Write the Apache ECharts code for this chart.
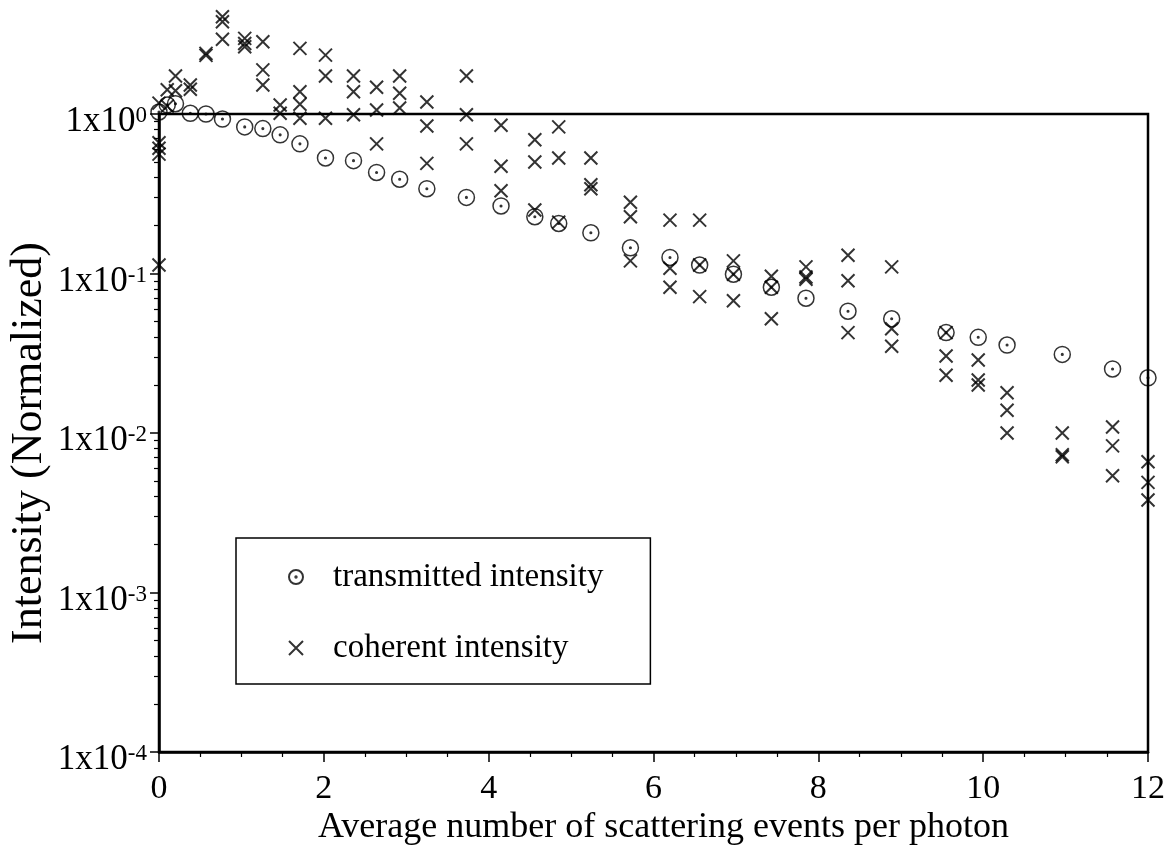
<!DOCTYPE html>
<html><head><meta charset="utf-8">
<script src="https://cdn.jsdelivr.net/npm/echarts@6/dist/echarts.min.js"></script>
<style>html,body{margin:0;padding:0;background:#fff}#c{width:1170px;height:858px}</style>
</head><body><div id="c"></div>
<script>
// ---- data ----
const seriesNames = ['transmitted intensity', 'coherent intensity'];
const xAxisTitle = 'Average number of scattering events per photon';
const yAxisTitle = 'Intensity (Normalized)';

const transX = [0, 0.1, 0.2, 0.38, 0.57, 0.77, 1.04, 1.26, 1.47, 1.71, 2.02, 2.36, 2.64, 2.92, 3.25, 3.73, 4.15, 4.56, 4.85, 5.24, 5.72, 6.2, 6.56, 6.97, 7.43, 7.85, 8.36, 8.89, 9.55, 9.94, 10.29, 10.96, 11.57, 12.0];
const transY = [1.03, 1.14, 1.16, 1.01, 1.0, 0.93, 0.83, 0.81, 0.74, 0.65, 0.53, 0.51, 0.43, 0.39, 0.34, 0.30, 0.265, 0.227, 0.206, 0.18, 0.145, 0.126, 0.113, 0.099, 0.082, 0.07, 0.058, 0.052, 0.0426, 0.0398, 0.0356, 0.0311, 0.0252, 0.0222];

const cohX = [0, 0, 0, 0, 0,
  0.1, 0.1, 0.2, 0.2,
  0.38, 0.38,
  0.57, 0.57,
  0.77, 0.77, 0.77,
  1.04, 1.04, 1.04,
  1.26, 1.26, 1.26,
  1.47, 1.47,
  1.71, 1.71, 1.71, 1.71,
  2.02, 2.02, 2.02,
  2.36, 2.36, 2.36,
  2.64, 2.64, 2.64,
  2.92, 2.92, 2.92,
  3.25, 3.25, 3.25,
  3.73, 3.73, 3.73,
  4.15, 4.15, 4.15,
  4.56, 4.56, 4.56,
  4.85, 4.85, 4.85,
  5.24, 5.24, 5.24,
  5.72, 5.72, 5.72,
  6.2, 6.2, 6.2,
  6.56, 6.56, 6.56,
  6.97, 6.97, 6.97,
  7.43, 7.43, 7.43,
  7.85, 7.85, 7.85,
  8.36, 8.36, 8.36,
  8.89, 8.89, 8.89,
  9.55, 9.55, 9.55,
  9.94, 9.94, 9.94,
  10.29, 10.29, 10.29,
  10.96, 10.96, 10.96,
  11.57, 11.57, 11.57,
  12.0, 12.0, 12.0];
const cohY = [1.17, 0.66, 0.61, 0.56, 0.113,
  1.42, 1.12, 1.73, 1.40,
  1.52, 1.43,
  2.40, 2.33,
  4.07, 3.79, 2.94,
  2.98, 2.77, 2.64,
  2.84, 1.89, 1.52,
  1.14, 1.01,
  2.58, 1.38, 1.15, 0.94,
  2.34, 1.73, 0.94,
  1.73, 1.38, 0.99,
  1.47, 1.06, 0.65,
  1.73, 1.35, 1.09,
  1.19, 0.84, 0.49,
  1.73, 0.99, 0.65,
  0.85, 0.47, 0.33,
  0.69, 0.50, 0.25,
  0.83, 0.53, 0.21,
  0.53, 0.36, 0.34,
  0.28, 0.227, 0.12,
  0.216, 0.108, 0.082,
  0.216, 0.113, 0.0716,
  0.12, 0.099, 0.0675,
  0.096, 0.082, 0.052,
  0.11, 0.095, 0.092,
  0.13, 0.09, 0.0426,
  0.11, 0.045, 0.035,
  0.0426, 0.0304, 0.023,
  0.0287, 0.0215, 0.020,
  0.0179, 0.0139, 0.010,
  0.010, 0.0073, 0.0071,
  0.0109, 0.0083, 0.0054,
  0.0066, 0.0049, 0.0038];

const yMinorTicks = [];
for (let d = -4; d <= -1; d++) for (let k = 2; k <= 9; k++) yMinorTicks.push(k * Math.pow(10, d));

// ---- chart ----
const FONT = 'Liberation Serif';
const circleDot = 'path://M10,0A10,10,0,1,1,-10,0A10,10,0,1,1,10,0ZM1,0A1,1,0,1,1,-1,0A1,1,0,1,1,1,0Z';
const cross = 'path://M0,0L10,10M10,0L0,10';

const chart = echarts.init(document.getElementById('c'), null, {renderer: 'canvas'});
const zip = (a, b) => a.map((v, i) => [v, b[i]]);

chart.setOption({
  animation: false,
  backgroundColor: '#fff',
  grid: {left: 159, right: 22, top: 114, bottom: 106, containLabel: false, outerBoundsMode: 'none',
    show: true, borderColor: '#000', borderWidth: 2.5, backgroundColor: 'transparent'},
  legend: {
    orient: 'vertical', left: 236, top: 538,
    data: seriesNames,
    borderColor: '#000', borderWidth: 1.5,
    padding: [21, 47, 18, 52],
    itemGap: 35, itemWidth: 64, itemHeight: 14,
    textStyle: {fontFamily: FONT, fontSize: 33, color: '#000', lineHeight: 36}
  },
  xAxis: {
    type: 'value', min: 0, max: 12, interval: 2,
    name: xAxisTitle, nameLocation: 'middle', nameGap: 58, nameMoveOverlap: false,
    nameTextStyle: {fontFamily: FONT, fontSize: 36, color: '#000', padding: [0, 0, 0, 20]},
    axisLine: {lineStyle: {color: '#000', width: 2.5}},
    axisTick: {inside: false, length: 10, lineStyle: {color: '#000', width: 1.5}},
    minorTick: {show: true, splitNumber: 4, length: 5, lineStyle: {color: '#000', width: 1.2}},
    axisLabel: {fontFamily: FONT, fontSize: 34, color: '#000', margin: 20},
    splitLine: {show: false}
  },
  yAxis: [{
    type: 'log', logBase: 10, min: 1e-4, max: 1,
    name: yAxisTitle, nameLocation: 'middle', nameGap: 108, nameMoveOverlap: false,
    nameTextStyle: {fontFamily: FONT, fontSize: 44, color: '#000', padding: [0, 20, 0, 0]},
    axisLine: {show: true, lineStyle: {color: '#000', width: 2.5}},
    axisTick: {inside: false, length: 9, lineStyle: {color: '#000', width: 1.5}},
    axisLabel: {
      margin: 12,
      padding: [16, 0, 0, 0],
      formatter: v => '{b|1x10}{s|' + Math.round(Math.log10(v)) + '}',
      rich: {
        b: {fontFamily: FONT, fontSize: 35, color: '#000', lineHeight: 35, verticalAlign: 'bottom'},
        s: {fontFamily: FONT, fontSize: 23, color: '#000', lineHeight: 23, verticalAlign: 'top', padding: [0, 0, 22, 0]}
      }
    },
    splitLine: {show: false}
  }, {
    type: 'log', logBase: 10, min: 1e-4, max: 1, position: 'left', offset: 0,
    axisLine: {show: false},
    axisTick: {show: true, inside: false, length: 5, customValues: yMinorTicks, lineStyle: {color: '#000', width: 1.2}},
    axisLabel: {show: false},
    splitLine: {show: false}
  }],
  series: [{
    name: seriesNames[0], type: 'scatter', clip: false,
    symbol: circleDot, symbolSize: 16,
    itemStyle: {color: 'rgba(0,0,0,0)', borderColor: '#000', borderWidth: 1.5},
    data: zip(transX, transY), z: 3
  }, {
    name: seriesNames[1], type: 'scatter', clip: false,
    symbol: cross, symbolSize: 13,
    itemStyle: {color: 'rgba(0,0,0,0)', borderColor: '#000', borderWidth: 2},
    data: zip(cohX, cohY), z: 4
  }]
});
</script></body></html>
